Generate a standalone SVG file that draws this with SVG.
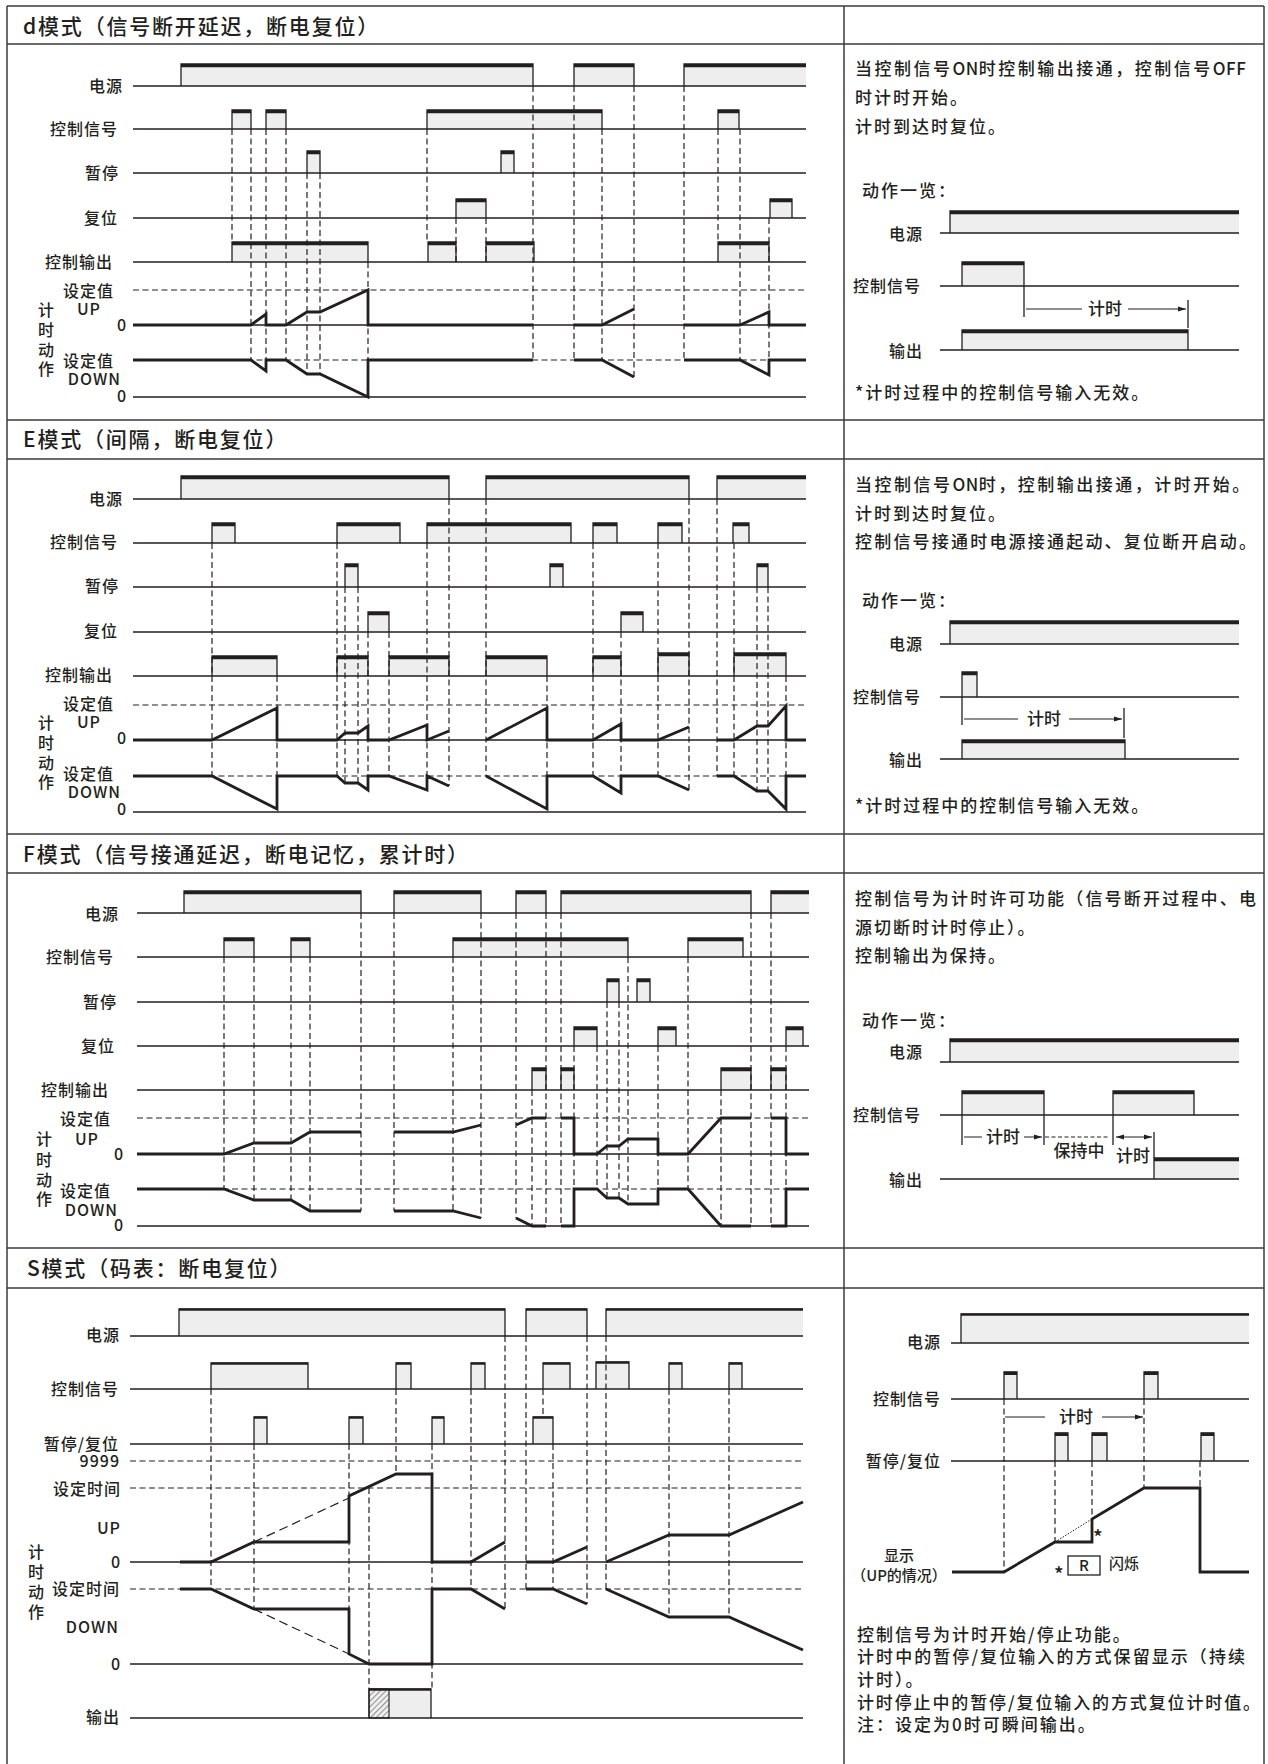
<svg xmlns="http://www.w3.org/2000/svg" width="1268" height="1764" viewBox="0 0 1268 1764">
<defs>
<style>
.fr{stroke:#3c3c3c;stroke-width:1.5;fill:none}
.ax{stroke:#231f20;stroke-width:1.3;fill:none}
.p{fill:#eeeeee;stroke:#231f20;stroke-width:1.3}
.pf{fill:#eeeeee;stroke:none}
.pl{fill:none;stroke:#231f20;stroke-width:1.3}
.pt{stroke:#231f20;stroke-width:3.4;fill:none}
.pt2{stroke:#231f20;stroke-width:2.2;fill:none}
.ds{stroke:#231f20;stroke-width:1.2;stroke-dasharray:6 3.5;fill:none}
.dl{stroke:#231f20;stroke-width:1.2;stroke-dasharray:9 5;fill:none}
.w{stroke:#231f20;stroke-width:2.8;fill:none;stroke-linejoin:miter}
.th{stroke:#231f20;stroke-width:1.2;fill:none}
text{font-family:"Noto Sans CJK SC","Noto Sans",sans-serif;fill:#231f20;font-weight:500}
.ttl{font-size:21px;letter-spacing:1.8px}
.lb{font-size:16px;text-anchor:end;letter-spacing:1px}
.lv{font-size:16px;text-anchor:middle}
.tx{font-size:17px;letter-spacing:2px}
.tw{font-size:17px;letter-spacing:2.5px}
.tc{font-size:17px;text-anchor:middle}
.sm{font-size:15px}
.lat{letter-spacing:0.5px}
</style>
<marker id="ah" viewBox="0 0 8 6" refX="8" refY="3" markerWidth="8" markerHeight="6" markerUnits="userSpaceOnUse" orient="auto-start-reverse">
<path d="M0 0.5L8 3L0 5.5z" fill="#231f20"/>
</marker>
<pattern id="hatch" patternUnits="userSpaceOnUse" width="4" height="4" patternTransform="rotate(45)">
<line x1="0" y1="0" x2="0" y2="4" stroke="#231f20" stroke-width="0.9"/>
</pattern>
</defs>
<rect x="0" y="0" width="1268" height="1764" fill="#ffffff"/>

<g id="frame" class="fr">
<path d="M7 6H1264M7 44H1264M7 420H1264M7 459H1264M7 834H1264M7 873H1264M7 1248H1264M7 1288H1264M7 6V1764M1264 6V1764M844 6V1764"/>
</g>

<g id="titles">
<text class="ttl" x="23" y="34">d模式（信号断开延迟，断电复位）</text>
<text class="ttl" x="23" y="447">E模式（间隔，断电复位）</text>
<text class="ttl" x="23" y="862">F模式（信号接通延迟，断电记忆，累计时）</text>
<text class="ttl" x="27" y="1276">S模式（码表：断电复位）</text>
</g>

<!-- ================= d mode ================= -->
<g id="d-mode">
<path class="p" d="M181 86V64H533V86M574 86V64H634V86M232 129V110H251V129M266 129V110H286V129M427 129V110H602V129M718 129V110H739V129M307 173V151H320V173M501 173V151H514V173M456 218V199H486V218M770 218V199H792V218M232 262V242H368V262M428 262V242H456V262M486 262V242H534V262M718 262V242H769V262"/>
<rect class="pf" x="684" y="64" width="122" height="22"/>
<path class="pl" d="M684 86V64H806"/>
<path class="pt" d="M181 65.6H533M574 65.6H634M684 65.6H806M232 111.6H251M266 111.6H286M427 111.6H602M718 111.6H739M307 152.6H320M501 152.6H514M456 200.6H486M770 200.6H792M232 243.6H368M428 243.6H456M486 243.6H534M718 243.6H769"/>
<path class="ax" d="M133 86H806M133 129H806M133 173H806M133 218H806M133 262H806M133 325H806M133 397H806"/>
<path class="ds" d="M133 290H806M133 360H806"/>
<text class="lb" x="123" y="92">电源</text>
<text class="lb" x="118" y="135">控制信号</text>
<text class="lb" x="119" y="179">暂停</text>
<text class="lb" x="118" y="224">复位</text>
<text class="lb" x="113" y="268">控制输出</text>
<text class="lb" x="114" y="297">设定值</text>
<text class="lb" x="101" y="315">UP</text>
<text class="lb" x="127" y="331">0</text>
<text class="lb" x="114" y="367">设定值</text>
<text class="lb" x="121" y="385">DOWN</text>
<text class="lb" x="127" y="402">0</text>
<text class="lv" x="46" y="316">计</text>
<text class="lv" x="46" y="336">时</text>
<text class="lv" x="46" y="356">动</text>
<text class="lv" x="46" y="375">作</text>
</g>
<g id="d-connectors">
<path class="ds" d="M232 129V242M251 129V360M266 129V360M286 129V360M307 173V374M320 173V374M368 262V397M427 129V242M456 218V262M486 218V262M533 86V360M574 86V360M602 129V360M634 86V377M684 86V360M718 129V242M740 129V360M769 218V375"/>
<path class="w" d="M133 325H251L266 314V325H286L307 312H320L368 290V325H533M574 325H602L634 309M684 325H740L769 312V325H806M133 360H251L266 371V360H286L307 374H320L368 397V360H533M574 360H602L634 377M684 360H740L769 375V360H806"/>
</g>

<g id="d-desc">
<text class="tw" x="855" y="75">当控制信号<tspan class="lat">ON</tspan>时控制输出接通，控制信号<tspan class="lat">OFF</tspan></text>
<text class="tx" x="855" y="104">时计时开始。</text>
<text class="tx" x="855" y="133">计时到达时复位。</text>
<text class="tx" x="862" y="197">动作一览：</text>
<rect class="pf" x="950" y="211" width="289" height="22"/>
<path class="pl" d="M950 233V211H1239"/>
<path class="p" d="M962 286V262H1024V286M962 350V330H1188V350"/>
<path class="pt" d="M950 212.6H1239M962 263.6H1024M962 331.6H1188"/>
<path class="ax" d="M940 233H1239M940 286H1239M940 350H1239M1024 286V317M1188 300V328"/>
<path class="th" d="M1082 309H1026M1128 309H1186" marker-end="url(#ah)"/>
<text class="tc" x="1105" y="315">计时</text>
<text class="lb" x="923" y="240">电源</text>
<text class="lb" x="921" y="292">控制信号</text>
<text class="lb" x="923" y="357">输出</text>
<text class="tx" x="855" y="399">*计时过程中的控制信号输入无效。</text>
</g>

<!-- ================= E mode ================= -->
<g id="e-mode">
<path class="p" d="M181 499V476H449V499M486 499V476H689V499M212 543V523H235V543M337 543V523H400V543M427 543V523H571V543M593 543V523H617V543M658 543V523H682V543M733 543V523H749V543M345 587V564H358V587M550 587V564H563V587M757 587V564H768V587M368 632V612H389V632M621 632V612H643V632M212 676V656H277V676M337 676V656H368V676M389 676V656H449V676M486 676V656H547V676M593 676V656H621V676M658 676V653H689V676M734 676V653H786V676"/>
<rect class="pf" x="717" y="476" width="89" height="23"/>
<path class="pl" d="M717 499V476H806"/>
<path class="pt" d="M181 477.6H449M486 477.6H689M717 477.6H806M212 524.6H235M337 524.6H400M427 524.6H571M593 524.6H617M658 524.6H682M733 524.6H749M345 565.6H358M550 565.6H563M757 565.6H768M368 613.6H389M621 613.6H643M212 657.6H277M337 657.6H368M389 657.6H449M486 657.6H547M593 657.6H621M658 654.6H689M734 654.6H786"/>
<path class="ax" d="M133 499H806M133 543H806M133 587H806M133 632H806M133 676H806M133 740H806M133 812H806"/>
<path class="ds" d="M133 705H806M133 776H806"/>
<text class="lb" x="123" y="505">电源</text>
<text class="lb" x="118" y="548">控制信号</text>
<text class="lb" x="119" y="592">暂停</text>
<text class="lb" x="118" y="637">复位</text>
<text class="lb" x="113" y="681">控制输出</text>
<text class="lb" x="114" y="710">设定值</text>
<text class="lb" x="101" y="728">UP</text>
<text class="lb" x="127" y="744">0</text>
<text class="lb" x="114" y="780">设定值</text>
<text class="lb" x="121" y="798">DOWN</text>
<text class="lb" x="127" y="815">0</text>
<text class="lv" x="46" y="729">计</text>
<text class="lv" x="46" y="749">时</text>
<text class="lv" x="46" y="769">动</text>
<text class="lv" x="46" y="788">作</text>
</g>
<g id="e-connectors">
<path class="ds" d="M212 543V776M277 676V809M337 543V776M345 587V783M358 587V783M368 632V790M389 632V776M427 543V790M449 499V786M486 499V776M547 676V809M593 543V776M621 632V793M658 543V776M689 499V790M717 499V776M734 543V776M757 587V791M768 587V791M786 676V809"/>
<path class="w" d="M133 740H212L277 708V740H337L345 733H358L368 726V740H389L427 725V740L449 731M486 740L547 708V740H593L621 724V740H658L689 727M717 740H734L757 726H768L786 706V740H806M133 776H212L277 809V776H337L345 783H358L368 790V776H389L427 790V776L449 786M486 776L547 809V776H593L621 793V776H658L689 790M717 776H734L757 791H768L786 809V776H806"/>
</g>

<g id="e-desc">
<text class="tw" x="855" y="491">当控制信号<tspan class="lat">ON</tspan>时，控制输出接通，计时开始。</text>
<text class="tx" x="855" y="520">计时到达时复位。</text>
<text class="tx" x="855" y="548" textLength="403" lengthAdjust="spacing">控制信号接通时电源接通起动、复位断开启动。</text>
<text class="tx" x="862" y="607">动作一览：</text>
<rect class="pf" x="950" y="621" width="289" height="23"/>
<path class="pl" d="M950 644V621H1239"/>
<path class="p" d="M962 697V672H977V697M962 759V740H1125V759"/>
<path class="pt" d="M950 622.6H1239M962 673.6H977M962 741.6H1125"/>
<path class="ax" d="M940 644H1239M940 697H1239M940 759H1239M962 697V725M1124 708V738"/>
<path class="th" d="M1018 719H964M1069 719H1122" marker-end="url(#ah)"/>
<text class="tc" x="1044" y="725">计时</text>
<text class="lb" x="923" y="650">电源</text>
<text class="lb" x="921" y="703">控制信号</text>
<text class="lb" x="923" y="766">输出</text>
<text class="tx" x="855" y="812">*计时过程中的控制信号输入无效。</text>
</g>

<!-- ================= F mode ================= -->
<g id="f-mode">
<path class="p" d="M184 913V891H361V913M394 913V891H481V913M516 913V891H546V913M561 913V891H751V913M224 957V938H254V957M291 957V938H310V957M453 957V938H628V957M688 957V938H743V957M607 1002V979H619V1002M637 1002V979H650V1002M574 1046V1027H597V1046M658 1046V1027H676V1046M786 1046V1027H803V1046M532 1090V1068H546V1090M561 1090V1068H574V1090M721 1090V1068H751V1090M771 1090V1068H786V1090"/>
<rect class="pf" x="771" y="891" width="38" height="22"/>
<path class="pl" d="M771 913V891H809"/>
<path class="pt" d="M184 892.6H361M394 892.6H481M516 892.6H546M561 892.6H751M771 892.6H809M224 939.6H254M291 939.6H310M453 939.6H628M688 939.6H743M607 980.6H619M637 980.6H650M574 1028.6H597M658 1028.6H676M786 1028.6H803M532 1069.6H546M561 1069.6H574M721 1069.6H751M771 1069.6H786"/>
<path class="ax" d="M137 913H809M137 957H809M137 1002H809M137 1046H809M137 1090H809M137 1154H809M137 1226H809"/>
<path class="ds" d="M137 1118H809M137 1189H809"/>
<text class="lb" x="119" y="920">电源</text>
<text class="lb" x="114" y="963">控制信号</text>
<text class="lb" x="117" y="1008">暂停</text>
<text class="lb" x="115" y="1052">复位</text>
<text class="lb" x="109" y="1096">控制输出</text>
<text class="lb" x="111" y="1125">设定值</text>
<text class="lb" x="99" y="1145">UP</text>
<text class="lb" x="124" y="1160">0</text>
<text class="lb" x="111" y="1197">设定值</text>
<text class="lb" x="118" y="1216">DOWN</text>
<text class="lb" x="124" y="1231">0</text>
<text class="lv" x="44" y="1145">计</text>
<text class="lv" x="44" y="1166">时</text>
<text class="lv" x="44" y="1186">动</text>
<text class="lv" x="44" y="1205">作</text>
</g>
<g id="f-connectors">
<path class="ds" d="M224 957V1189M254 957V1200M291 957V1200M310 957V1211M361 913V1211M394 913V1211M453 957V1211M481 913V1218M516 913V1218M532 1090V1226M546 913V1226M561 913V1226M574 1046V1226M597 1046V1189M607 1002V1198M619 1002V1198M628 957V1204M658 1046V1204M688 957V1189M721 1090V1226M751 913V1226M771 913V1226M786 1046V1226"/>
<path class="w" d="M137 1154H224L254 1143H291L310 1132H361M394 1132H453L481 1125M516 1125L532 1118H546M561 1118H574V1154H597L607 1146H619L628 1139H658V1154H688L721 1118H751M771 1118H786V1154H809M137 1189H224L254 1200H291L310 1211H361M394 1211H453L481 1218M516 1218L532 1226H546M561 1226H574V1189H597L607 1198H619L628 1204H658V1189H688L721 1226H751M771 1226H786V1189H809"/>
</g>

<g id="f-desc">
<text class="tx" x="855" y="905" textLength="403" lengthAdjust="spacing">控制信号为计时许可功能（信号断开过程中、电</text>
<text class="tx" x="855" y="934">源切断时计时停止）。</text>
<text class="tx" x="855" y="962">控制输出为保持。</text>
<text class="tx" x="862" y="1027">动作一览：</text>
<rect class="pf" x="950" y="1039" width="289" height="23"/>
<path class="pl" d="M950 1062V1039H1239"/>
<rect class="pf" x="1154" y="1158" width="85" height="21"/>
<path class="pl" d="M1154 1179V1158H1239"/>
<path class="p" d="M962 1115V1091H1044V1115M1113 1115V1091H1194V1115"/>
<path class="pt" d="M950 1040.6H1239M962 1092.6H1044M1113 1092.6H1194M1154 1159.6H1239"/>
<path class="ax" d="M940 1062H1239M940 1115H1239M940 1179H1239M962 1115V1145M1044 1115V1145M1113 1115V1145M1154 1132V1158"/>
<path class="th" d="M982 1137H964M1024 1137H1042" marker-end="url(#ah)"/>
<path class="th" d="M1116 1137H1152" marker-start="url(#ah)" marker-end="url(#ah)"/>
<path class="th" d="M1045 1137H1108" stroke-dasharray="4 2.5"/>
<text class="tc" x="1003" y="1143">计时</text>
<text class="tc" x="1079" y="1157">保持中</text>
<text class="tc" x="1133" y="1162">计时</text>
<text class="lb" x="923" y="1058">电源</text>
<text class="lb" x="921" y="1121">控制信号</text>
<text class="lb" x="923" y="1186">输出</text>
</g>

<!-- ================= S mode ================= -->
<g id="s-mode">
<path class="p" d="M179 1336V1309H505V1336M526 1336V1309H587V1336M211 1389V1363H308V1389M396 1389V1363H411V1389M471 1389V1363H485V1389M543 1389V1363H570V1389M596 1389V1362H629V1389M669 1389V1363H682V1389M729 1389V1363H742V1389M254 1444V1417H267V1444M349 1444V1417H363V1444M432 1444V1417H444V1444M533 1444V1417H553V1444M369 1718V1689H431V1718"/>
<rect class="pf" x="606" y="1309" width="197" height="27"/>
<path class="pl" d="M606 1336V1309H803"/>
<rect x="369" y="1689" width="20" height="29" fill="url(#hatch)" stroke="#231f20" stroke-width="1.1"/>
<path class="pt2" d="M179 1309.6H505M526 1309.6H587M606 1309.6H803M211 1363.6H308M396 1363.6H411M471 1363.6H485M543 1363.6H570M596 1362.6H629M669 1363.6H682M729 1363.6H742M254 1417.6H267M349 1417.6H363M432 1417.6H444M533 1417.6H553M369 1689.6H431"/>
<path class="ax" d="M130 1336H803M130 1389H803M130 1444H803M130 1562H803M130 1664H803M130 1718H803"/>
<path class="ds" d="M130 1461H803M130 1488H803M130 1589H803"/>
<text class="lb" x="120" y="1341">电源</text>
<text class="lb" x="119" y="1395">控制信号</text>
<text class="lb" x="119" y="1450">暂停/复位</text>
<text class="lb" x="120" y="1467">9999</text>
<text class="lb" x="121" y="1495">设定时间</text>
<text class="lb" x="121" y="1534">UP</text>
<text class="lb" x="121" y="1568">0</text>
<text class="lb" x="120" y="1595">设定时间</text>
<text class="lb" x="119" y="1633">DOWN</text>
<text class="lb" x="121" y="1670">0</text>
<text class="lb" x="120" y="1723">输出</text>
<text class="lv" x="36" y="1558">计</text>
<text class="lv" x="36" y="1578">时</text>
<text class="lv" x="36" y="1598">动</text>
<text class="lv" x="36" y="1618">作</text>
</g>
<g id="s-connectors">
<path class="ds" d="M211 1389V1589M254 1444V1609M349 1444V1654M369 1488V1689M396 1389V1474M432 1444V1689M471 1389V1589M505 1336V1609M526 1336V1589M543 1389V1417M553 1444V1589M587 1336V1604M606 1336V1589M669 1389V1617M729 1389V1617"/>
<path class="dl" d="M254 1542L349 1498M254 1609L349 1654"/>
<path class="w" d="M180 1562H211L254 1542H349V1496L396 1474H432V1562H471L505 1542M526 1562H553L587 1547M606 1562L669 1535H729L803 1502M180 1589H211L254 1609H349V1654L369 1664H432V1589H471L505 1609M526 1589H553L587 1604M606 1589L669 1617H729L803 1650"/>
</g>

<g id="s-desc">
<rect class="pf" x="961" y="1314" width="288" height="29"/>
<path class="pl" d="M961 1343V1314H1249"/>
<path class="pt2" d="M961 1314.6H1249"/>
<path class="p" d="M1004 1399V1372H1017V1399M1144 1399V1372H1158V1399M1055 1461V1433H1068V1461M1092 1461V1433H1107V1461M1201 1461V1433H1214V1461"/>
<path class="pt" d="M1004 1373.4H1017M1144 1373.4H1158M1055 1434.4H1068M1092 1434.4H1107M1201 1434.4H1214" stroke-width="2.8"/>
<path class="ax" d="M951 1343H1249M951 1399H1249M951 1461H1249"/>
<path class="ds" d="M1004 1399V1572M1055 1461V1542M1092 1461V1519M1144 1399V1488M1200 1461V1488"/>
<path class="th" d="M1045 1417H1005M1102 1417H1143" marker-end="url(#ah)"/>
<text class="tc" x="1076" y="1423">计时</text>
<path d="M1055 1542L1092 1519" stroke="#231f20" stroke-width="1" stroke-dasharray="1.5 1.5" fill="none"/>
<path class="w" d="M952 1572H1004L1055 1542H1092V1519L1144 1488H1200V1572H1249"/>
<text x="1093" y="1545" font-size="20">*</text>
<text x="1054" y="1582" font-size="20">*</text>
<rect x="1068" y="1556" width="32" height="19" fill="#ffffff" stroke="#231f20" stroke-width="1.3"/>
<text x="1084" y="1571" font-size="15" text-anchor="middle">R</text>
<text class="sm" x="1109" y="1569">闪烁</text>
<text class="lb" x="941" y="1348">电源</text>
<text class="lb" x="941" y="1405">控制信号</text>
<text class="lb" x="941" y="1467">暂停/复位</text>
<text class="sm" x="899" y="1561" text-anchor="middle">显示</text>
<text class="sm" x="899" y="1581" text-anchor="middle">（UP的情况）</text>
<text class="tx" x="857" y="1641">控制信号为计时开始/停止功能。</text>
<text class="tx" x="857" y="1663" textLength="390" lengthAdjust="spacing">计时中的暂停/复位输入的方式保留显示（持续</text>
<text class="tx" x="857" y="1686">计时）。</text>
<text class="tx" x="857" y="1709" textLength="405" lengthAdjust="spacing">计时停止中的暂停/复位输入的方式复位计时值。</text>
<text class="tx" x="857" y="1731">注：设定为0时可瞬间输出。</text>
</g>
</svg>
